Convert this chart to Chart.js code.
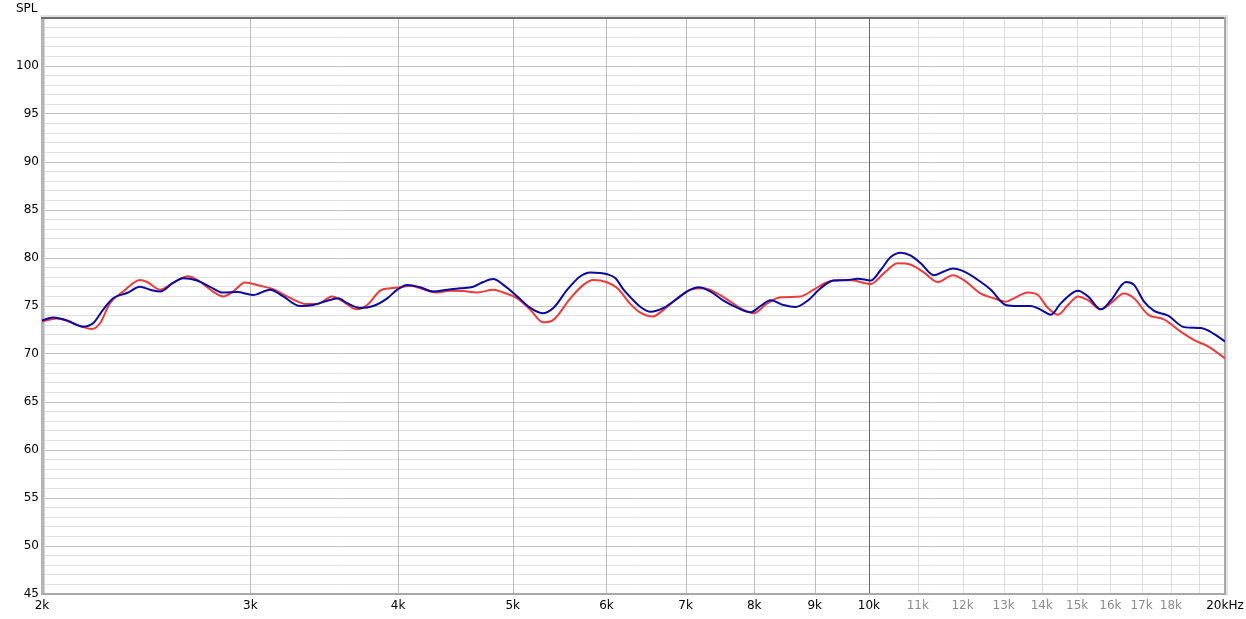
<!DOCTYPE html>
<html>
<head>
<meta charset="utf-8">
<script src="https://cdn.jsdelivr.net/npm/chart.js@4.4.1/dist/chart.umd.min.js"></script>
<style>
  html, body { margin: 0; padding: 0; background: #fff; }
  #wrap { width: 1246px; height: 619px; }
</style>
</head>
<body>
<div id="wrap"><canvas id="spl" width="1246" height="619"></canvas></div>
<script>
// frequency response
const blueFreq = [2000,2043,2100,2166,2209,2252,2297,2360,2421,2468,2517,2581,2632,2705,2774,2845,2924,3016,3118,3198,3305,3390,3484,3559,3622,3715,3811,3916,3993,4072,4176,4283,4402,4514,4630,4721,4814,4909,5044,5174,5296,5411,5560,5703,5815,6012,6107,6203,6288,6411,6537,6705,6890,7026,7178,7348,7536,7744,7943,8099,8258,8470,8670,8875,9103,9336,9594,9783,10035,10233,10434,10640,10850,11063,11347,11570,11775,12030,12435,12680,13056,13365,13707,13977,14252,14533,15022,15318,15711,16020,16495,16754,17084,17421,17902,18470,19087,19576,20000];
const blueSpl = [73.5,73.8,73.5,72.85,73.2,74.6,75.8,76.35,77.0,76.7,76.5,77.4,77.9,77.65,77.0,76.4,76.45,76.15,76.7,76.0,75.0,75.1,75.55,75.8,75.3,74.8,75.0,75.8,76.7,77.2,76.95,76.5,76.7,76.85,77.0,77.5,77.8,77.2,76.0,74.8,74.25,74.8,76.7,78.1,78.5,78.3,77.9,76.7,75.9,74.9,74.4,74.8,75.8,76.55,76.95,76.5,75.55,74.8,74.35,75.0,75.6,75.1,74.9,75.55,76.85,77.65,77.7,77.85,77.65,78.75,80.1,80.55,80.25,79.45,78.2,78.6,78.9,78.6,77.5,76.7,75.1,75.0,75.0,74.6,74.1,75.3,76.6,76.0,74.65,75.6,77.5,77.2,75.45,74.5,74.0,72.8,72.7,72.1,71.3];

const redFreq = [2000,2059,2125,2204,2239,2283,2342,2421,2454,2517,2581,2658,2721,2790,2845,2901,2969,3058,3136,3223,3351,3417,3518,3594,3693,3766,3863,3939,4017,4096,4176,4317,4427,4541,4666,4814,4909,5044,5174,5306,5411,5593,5737,5849,6012,6130,6288,6411,6563,6705,6890,7067,7248,7449,7639,7835,7989,8210,8421,8755,8980,9228,9464,9707,10035,10293,10578,10850,11128,11436,11775,12030,12435,12754,13056,13261,13628,13896,14169,14448,14733,15022,15318,15711,16020,16430,16754,17218,17760,18362,18833,19349,20000];
const redSpl = [73.4,73.7,73.2,72.6,73.2,75.3,76.5,77.7,77.5,76.7,77.4,78.1,77.5,76.5,76.0,76.5,77.45,77.1,76.75,76.0,75.2,75.2,76.0,75.45,74.65,75.1,76.6,76.85,76.95,77.1,76.85,76.4,76.6,76.55,76.4,76.7,76.4,75.8,74.6,73.3,73.55,75.8,77.2,77.7,77.45,76.85,75.2,74.3,73.9,74.6,75.8,76.7,76.85,76.3,75.45,74.6,74.25,75.3,75.9,76.0,76.7,77.5,77.7,77.65,77.3,78.4,79.45,79.3,78.5,77.5,78.2,77.7,76.3,75.8,75.45,75.8,76.4,76.15,74.8,74.1,75.1,76.0,75.6,74.65,75.3,76.3,75.8,74.1,73.6,72.3,71.45,70.8,69.55];

const xTickValues = [2000,3000,4000,5000,6000,7000,8000,9000,10000,11000,12000,13000,14000,15000,16000,17000,18000,19000,20000];
const xTickLabels = ['2k','3k','4k','5k','6k','7k','8k','9k','10k','11k','12k','13k','14k','15k','16k','17k','18k','','20kHz'];
const yMin = 45, yMax = 105;

const pts = (fs, vs) => fs.map((f, i) => ({x: f, y: vs[i]}));

function vLineColor(v) {
  if (v === 10000) return '#6a6a6a';
  if (v > 10000) return '#dcdcdc';
  return '#bdbdbd';
}

// vertical grid above the horizontal one, frame, axis caption
const frame = {
  id: 'frame',
  beforeDatasetsDraw(chart) {
    const {ctx, chartArea: a} = chart;
    const xs = chart.scales.x;
    ctx.save();
    xTickValues.forEach(v => {
      if (v === 2000 || v === 20000) return;
      const px = Math.round(xs.getPixelForValue(v)) + 0.5;
      ctx.strokeStyle = vLineColor(v);
      ctx.lineWidth = 1;
      ctx.beginPath();
      ctx.moveTo(px, a.top);
      ctx.lineTo(px, a.bottom);
      ctx.stroke();
    });
    // soft shadow
    ctx.fillStyle = '#e2e2e2';
    ctx.fillRect(a.left - 1, a.top - 3, a.right - a.left + 4, 2);
    ctx.fillRect(a.right + 1, a.top - 3, 2, a.bottom - a.top + 4);
    // left thick edge
    ctx.fillStyle = '#b4b4b4';
    ctx.fillRect(a.left - 1, a.top, 3, a.bottom - a.top + 1);
    ctx.fillStyle = '#d6d6d6';
    ctx.fillRect(a.left + 2, a.top, 1, a.bottom - a.top);
    // top dark line
    ctx.fillStyle = '#6e6e6e';
    ctx.fillRect(a.left - 1, a.top - 1, a.right - a.left + 2, 2);
    // right + bottom
    ctx.fillStyle = '#a8a8a8';
    ctx.fillRect(a.right - 1, a.top - 1, 2, a.bottom - a.top + 2);
    ctx.fillRect(a.left - 1, a.bottom - 1, a.right - a.left + 2, 2);
    ctx.restore();
  },
  afterDraw(chart) {
    const ctx = chart.ctx;
    ctx.save();
    ctx.font = '12px "DejaVu Sans"';
    ctx.fillStyle = '#000';
    ctx.textBaseline = 'middle';
    ctx.fillText('SPL', 16, 9);
    ctx.restore();
  }
};

new Chart(document.getElementById('spl'), {
  type: 'line',
  data: {
    datasets: [
      {
        label: 'red',
        data: pts(redFreq, redSpl),
        borderColor: '#ec3b3b',
        borderWidth: 2,
        pointRadius: 0,
        cubicInterpolationMode: 'monotone',
        fill: false,
        order: 2
      },
      {
        label: 'blue',
        data: pts(blueFreq, blueSpl),
        borderColor: '#0a0aa0',
        borderWidth: 2,
        pointRadius: 0,
        cubicInterpolationMode: 'monotone',
        fill: false,
        order: 1
      }
    ]
  },
  options: {
    responsive: false,
    animation: false,
    devicePixelRatio: 1,
    layout: { padding: { top: 18, right: 21, left: 0, bottom: 0 } },
    plugins: { legend: { display: false }, tooltip: { enabled: false } },
    scales: {
      x: {
        type: 'logarithmic',
        min: 2000,
        max: 20000,
        afterBuildTicks(scale) {
          scale.ticks = xTickValues.map(v => ({value: v}));
        },
        afterFit(scale) {
          scale.height = 25;
          scale.paddingLeft = 0;
          scale.paddingRight = 0;
        },
        border: { display: false },
        grid: { drawTicks: false, color: 'rgba(0,0,0,0)' },
        ticks: {
          autoSkip: false,
          maxRotation: 0,
          padding: 5,
          font: { family: 'DejaVu Sans', size: 12 },
          color(c) {
            const v = c.tick && c.tick.value;
            return (v > 10000 && v < 20000) ? '#8c8c8c' : '#000';
          },
          callback(value) {
            const i = xTickValues.indexOf(value);
            return i >= 0 ? xTickLabels[i] : '';
          }
        }
      },
      y: {
        min: yMin,
        max: yMax,
        afterFit(scale) {
          scale.width = 42;
          scale.paddingTop = 0;
          scale.paddingBottom = 0;
        },
        border: { display: false },
        grid: {
          drawTicks: false,
          color(c) {
            const v = c.tick && c.tick.value;
            if (v === yMin || v === yMax) return 'rgba(0,0,0,0)';
            return v % 5 === 0 ? '#c2c2c2' : '#e0e0e0';
          }
        },
        ticks: {
          stepSize: 1,
          autoSkip: false,
          padding: 3,
          font: { family: 'DejaVu Sans', size: 12 },
          color: '#000',
          callback(value) {
            return (value % 5 === 0 && value <= 100) ? String(value) : '';
          }
        }
      }
    }
  },
  plugins: [frame]
});
</script>
</body>
</html>
